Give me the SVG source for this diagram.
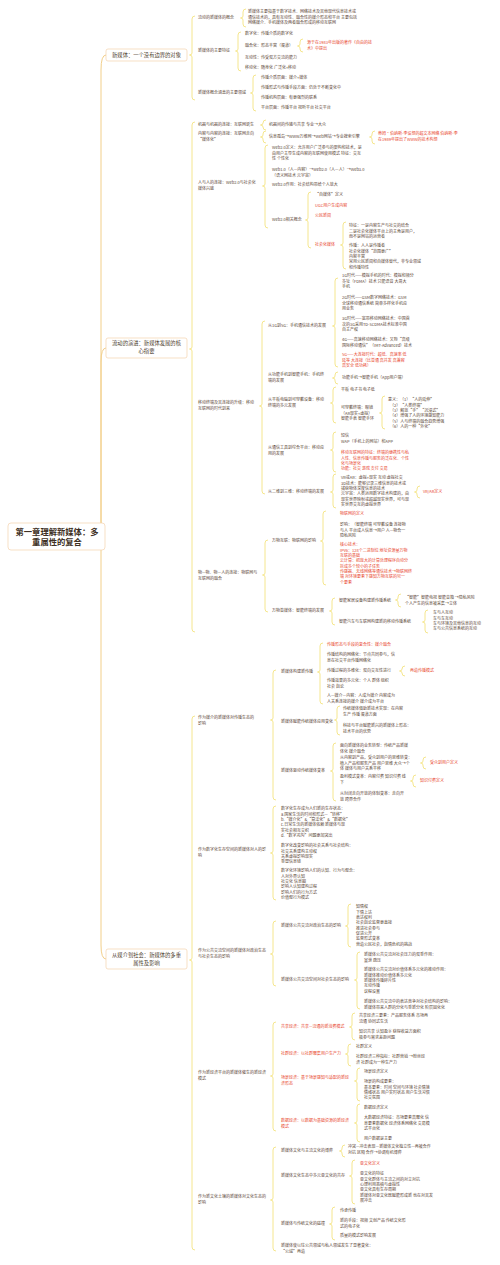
<svg xmlns="http://www.w3.org/2000/svg" width="500" height="1265" viewBox="0 0 500 1265">
<style>
text{font-family:"Noto Sans CJK SC","Noto Sans",sans-serif;font-size:4px;fill:#5b4636}
.r{fill:#e8452c}
.l1{font-size:5.3px;fill:#4a3a2a}
.root{font-size:8.3px;font-weight:bold;fill:#3e3024}
.br{fill:none;stroke:#f2df72;stroke-width:0.8}
.cn{fill:none;stroke:#f2cf8a;stroke-width:1}
.box{fill:#fff;stroke:#f3d3ad;stroke-width:0.7}
</style>
<rect width="500" height="1265" fill="#fff"/>
<g id="connectors">
<path class="cn" d="M103 536Q101 536 101 520V70Q101 55 106 55"/>
<path class="cn" d="M103 536Q101 536 101 520V362Q101 348 106 348"/>
<path class="cn" d="M103 536Q101 536 101 552V945Q101 959 106 959"/>
<path class="br" d="M195 16Q192 16 192 19V53Q192 55 189.5 55Q192 55 192 57V97Q192 100 195 100"/>
<path class="br" d="M195 122Q192 122 192 125V347Q192 349 189.5 349Q192 349 192 351V629Q192 632 195 632"/>
<path class="br" d="M195 716Q192 716 192 719V958Q192 960 189.5 960Q192 960 192 962V1247Q192 1250 195 1250"/>
<path class="br" d="M246 9Q243 9 243 12V16Q243 18 240.5 18Q243 18 243 20V24Q243 27 246 27"/>
<path class="br" d="M241 32Q238 32 238 35V49Q238 51 235.5 51Q238 51 238 53V68Q238 71 241 71"/>
<path class="br" d="M303 39Q300 39 300 42V44Q300 46 297.5 46Q300 46 300 48V49Q300 52 303 52"/>
<path class="br" d="M256 75Q253 75 253 78V91Q253 93 250.5 93Q253 93 253 95V108Q253 111 256 111"/>
<path class="br" d="M266 120Q263 120 263 123V123Q263 125 260.5 125Q263 125 263 127V127Q263 130 266 130"/>
<path class="br" d="M266 131Q263 131 263 134V135Q263 137 260.5 137Q263 137 263 139V140Q263 143 266 143"/>
<path class="br" d="M375 131Q372 131 372 134V135Q372 137 369.5 137Q372 137 372 139V141Q372 144 375 144"/>
<path class="br" d="M268 145Q265 145 265 148V184Q265 186 262.5 186Q265 186 265 188V225Q265 228 268 228"/>
<path class="br" d="M311 192Q308 192 308 195V218Q308 220 305.5 220Q308 220 308 222V245Q308 248 311 248"/>
<path class="br" d="M346 222Q343 222 343 225V243Q343 245 340.5 245Q343 245 343 247V266Q343 269 346 269"/>
<path class="br" d="M265 321Q262 321 262 324V404Q262 406 259.5 406Q262 406 262 408V491Q262 494 265 494"/>
<path class="br" d="M338 278Q335 278 335 281V324Q335 326 332.5 326Q335 326 335 328V364Q335 367 338 367"/>
<path class="br" d="M338 372Q335 372 335 375V376Q335 378 332.5 378Q335 378 335 380V381Q335 384 338 384"/>
<path class="br" d="M336 387Q333 387 333 390V401Q333 403 330.5 403Q333 403 333 405V420Q333 423 336 423"/>
<path class="br" d="M385 396Q382 396 382 399V411Q382 413 379.5 413Q382 413 382 415V426Q382 429 385 429"/>
<path class="br" d="M336 432Q333 432 333 435V448Q333 450 330.5 450Q333 450 333 452V469Q333 472 336 472"/>
<path class="br" d="M336 474Q333 474 333 477V490Q333 492 330.5 492Q333 492 333 494V505Q333 508 336 508"/>
<path class="br" d="M420 486Q417 486 417 489V490Q417 492 414.5 492Q417 492 417 494V495Q417 498 420 498"/>
<path class="br" d="M268 540Q265 540 265 543V573Q265 575 262.5 575Q265 575 265 577V609Q265 612 268 612"/>
<path class="br" d="M326 511Q323 511 323 514V539Q323 541 320.5 541Q323 541 323 543V582Q323 585 326 585"/>
<path class="br" d="M335 598Q332 598 332 601V609Q332 611 329.5 611Q332 611 332 613V622Q332 625 335 625"/>
<path class="br" d="M401 594Q398 594 398 597V598Q398 600 395.5 600Q398 600 398 602V604Q398 607 401 607"/>
<path class="br" d="M428 610Q425 610 425 613V620Q425 622 422.5 622Q425 622 425 624V630Q425 633 428 633"/>
<path class="br" d="M276 670Q273 670 273 673V718Q273 720 270.5 720Q273 720 273 722V797Q273 800 276 800"/>
<path class="br" d="M323 643Q320 643 320 646V670Q320 672 317.5 672Q320 672 320 674V701Q320 704 323 704"/>
<path class="br" d="M405 666Q402 666 402 669V669Q402 671 399.5 671Q402 671 402 673V673Q402 676 405 676"/>
<path class="br" d="M340 706Q337 706 337 709V718Q337 720 334.5 720Q337 720 337 722V732Q337 735 340 735"/>
<path class="br" d="M336 743Q333 743 333 746V769Q333 771 330.5 771Q333 771 333 773V798Q333 801 336 801"/>
<path class="br" d="M426 757Q423 757 423 760V761Q423 763 420.5 763Q423 763 423 765V766Q423 769 426 769"/>
<path class="br" d="M416 775Q413 775 413 778V779Q413 781 410.5 781Q413 781 413 783V784Q413 787 416 787"/>
<path class="br" d="M276 806Q273 806 273 809V851Q273 853 270.5 853Q273 853 273 855V897Q273 900 276 900"/>
<path class="br" d="M276 921Q273 921 273 924V952Q273 954 270.5 954Q273 954 273 956V983Q273 986 276 986"/>
<path class="br" d="M351 904Q348 904 348 907V924Q348 926 345.5 926Q348 926 348 928V944Q348 947 351 947"/>
<path class="br" d="M360 952Q357 952 357 955V978Q357 980 354.5 980Q357 980 357 982V1006Q357 1009 360 1009"/>
<path class="br" d="M276 1022Q273 1022 273 1025V1074Q273 1076 270.5 1076Q273 1076 273 1078V1128Q273 1131 276 1131"/>
<path class="br" d="M355 1013Q352 1013 352 1016V1025Q352 1027 349.5 1027Q352 1027 352 1029V1037Q352 1040 355 1040"/>
<path class="br" d="M351 1044Q348 1044 348 1047V1052Q348 1054 345.5 1054Q348 1054 348 1056V1063Q348 1066 351 1066"/>
<path class="br" d="M360 1068Q357 1068 357 1071V1079Q357 1081 354.5 1081Q357 1081 357 1083V1098Q357 1101 360 1101"/>
<path class="br" d="M360 1104Q357 1104 357 1107V1121Q357 1123 354.5 1123Q357 1123 357 1125V1139Q357 1142 360 1142"/>
<path class="br" d="M276 1147Q273 1147 273 1150V1198Q273 1200 270.5 1200Q273 1200 273 1202V1248Q273 1251 276 1251"/>
<path class="br" d="M345 1145Q342 1145 342 1148V1149Q342 1151 339.5 1151Q342 1151 342 1153V1154Q342 1157 345 1157"/>
<path class="br" d="M355 1160Q352 1160 352 1163V1174Q352 1176 349.5 1176Q352 1176 352 1178V1201Q352 1204 355 1204"/>
<path class="br" d="M335 1207Q332 1207 332 1210V1222Q332 1224 329.5 1224Q332 1224 332 1226V1237Q332 1240 335 1240"/>
</g>
<g id="root">
<rect class="box" x="8" y="523" width="97" height="27" rx="3"/>
<text class="root" x="57" y="535" text-anchor="middle">第一章理解新媒体：多</text>
<text class="root" x="57" y="545" text-anchor="middle">重属性的复合</text>
</g>
<g id="n-a">
<rect class="box" x="106" y="49" width="81" height="12" rx="2"/>
<text class="l1" x="146.5" y="57" text-anchor="middle">新媒体：一个没有边界的对象</text>
</g>
<g id="n-b">
<rect class="box" x="106" y="338" width="81" height="20" rx="2"/>
<text class="l1" x="146.5" y="345" text-anchor="middle">流动的演进：新媒体发展的核</text>
<text class="l1" x="146.5" y="353" text-anchor="middle">心指要</text>
</g>
<g id="n-c">
<rect class="box" x="106" y="949" width="81" height="20" rx="2"/>
<text class="l1" x="146.5" y="957" text-anchor="middle">从媒介到社会：新媒体的多重</text>
<text class="l1" x="146.5" y="965" text-anchor="middle">属性及影响</text>
</g>
<g id="n-a1">
<text x="198" y="19.4">流动的新媒体的概念</text>
<text x="248" y="13.4">新媒体主要指基于数字技术、网络技术及其他现代信息技术或</text>
<text x="248" y="18.7">通信技术的，具有互动性、融合性的媒介形态和平台 主要包括</text>
<text x="248" y="24">网络媒介、手机媒体及两者融合形成的移动互联网</text>
</g>
<g id="n-a2">
<text x="198" y="52.4">新媒体的主要特征</text>
<text x="245" y="35.4">数字化：传播介质的数字化</text>
<text x="245" y="47.4">融合化：形态丰富（渠道）</text>
<text x="245" y="59.4">互动性：传受双方交流的能力</text>
<text x="245" y="69.4">移动化：随身化 广泛化+移动</text>
<text class="r" x="307" y="44.4">源于在1983年出版的著作《自由的技</text>
<text class="r" x="307" y="49.7">术》中提出</text>
</g>
<g id="n-a3">
<text x="198" y="94.4">新媒体概念涵盖的主要领域</text>
<text x="261" y="79.4">传播介质层面：媒介+媒体</text>
<text x="261" y="89.4">传播形式与传播手段方面：仍处于不断变化中</text>
<text x="261" y="99.4">传播机构层面：有更强烈的联系</text>
<text x="261" y="109.4">平台层面：传播平台 视听平台 社交平台</text>
</g>
<g id="n-b1">
<text x="198" y="126.4">机器与机器的连接：互联网诞生</text>
<text x="269" y="126.4">机器间的传输与共享 专业→大众</text>
</g>
<g id="n-b2">
<text x="198" y="135.4">内容与内容的连接：互联网走向</text>
<text x="198" y="140.7">“媒体化”</text>
<text x="269" y="138.4">信息孤岛→WWW万维网→Web网站→专业搜索引擎</text>
<text class="r" x="378" y="135.4">蒂姆·伯纳斯-李设想的超文本网络 伯纳斯-李</text>
<text class="r" x="378" y="141">在1989年提出了WWW的技术构想</text>
</g>
<g id="n-b3">
<text x="198" y="184.4">人与人的连接：Web2.0与社会化</text>
<text x="198" y="190">媒体兴盛</text>
<text x="272" y="149.4">Web2.0定义：允许用户广泛参与的架构和技术，是</text>
<text x="272" y="154.7">由用户主导生成内容的互联网使用模式 特征：交互</text>
<text x="272" y="160">性 个性化</text>
<text x="272" y="171.4">Web1.0（人—内容）→Web2.0（人—人）→Web3.0</text>
<text x="272" y="176.7">（语义网技术 元宇宙）</text>
<text x="272" y="186.4">Web2.0作用：社会结构带给个人放大</text>
<text x="272" y="221.4">Web2.0相关概念</text>
<text x="315" y="196.4">“自媒体”定义</text>
<text class="r" x="315" y="207.4">UGC用户生成内容</text>
<text class="r" x="315" y="217.4">公民新闻</text>
<text class="r" x="315" y="246.4">社会化媒体</text>
<text x="349" y="227.4">特征：一是内容生产与社交的结合</text>
<text x="349" y="232.7">二是社会化媒体平台上的主角是用户，</text>
<text x="349" y="238">而不是网站的运营者</text>
<text x="349" y="247.4">传播：人人是传播者</text>
<text x="349" y="252.7">社会化媒体“范围更广”</text>
<text x="349" y="258">内容丰富</text>
<text x="349" y="263.3">常用公民新闻和自媒体替代，非专业领域</text>
<text x="349" y="268.6">和传播特性</text>
</g>
<g id="n-b4">
<text x="198" y="404.4">移动终端及其连接的升级：移动</text>
<text x="198" y="410">互联网的时代到来</text>
<text x="268" y="327.4">从1G到5G：手机通信技术的发展</text>
<text x="342" y="277.4">1G时代——模拟手机的时代：模拟和频分</text>
<text x="342" y="282.7">多址（FDMA）技术 只能语音 大哥大</text>
<text x="342" y="288">手机</text>
<text x="342" y="299.4">2G时代——GSM数字网络技术：GSM</text>
<text x="342" y="304.7">全球移动通信系统 简单多样化手机应</text>
<text x="342" y="310">用业务</text>
<text x="342" y="320.4">3G时代——宽带移动网络技术：中国首</text>
<text x="342" y="325.7">次的3G采用TD-SCDMA技术标准中国</text>
<text x="342" y="331">自主产权</text>
<text x="342" y="341.4">4G——高速移动网络技术：又称“高级</text>
<text x="342" y="346.7">国际移动通信”（IMT-Advanced）技术</text>
<text class="r" x="342" y="356.4">5G——大连接时代：超低、高速率 低</text>
<text class="r" x="342" y="361.7">延等 大连接（比普通 高并发 高兼容</text>
<text class="r" x="342" y="367">高安全 低功耗）</text>
<text x="268" y="376.4">从功能手机到智能手机：手机终</text>
<text x="268" y="381.7">端的发展</text>
<text x="342" y="379.4">功能手机→智能手机（App用户端）</text>
<text x="268" y="401.4">从平板电脑到可穿戴设备：移动</text>
<text x="268" y="406.7">终端的多元发展</text>
<text x="341" y="391.4">平板 电子书 电子纸</text>
<text x="341" y="409.4">可穿戴终端：眼镜</text>
<text x="341" y="414.7">（AR现实+虚拟）</text>
<text x="341" y="420">智能手表 智能手环</text>
<text x="388" y="401.4">意义：（1）“人的延伸”</text>
<text x="390" y="406.7">（2）“人类终端”</text>
<text x="390" y="412">（3）解放“手”“沉浸式”</text>
<text x="390" y="417.3">（4）增强了人的环境感知能力</text>
<text x="390" y="422.6">（5）人与终端的融合趋势增强</text>
<text x="390" y="427.9">（6）人的一种“外化”</text>
<text x="268" y="449.4">从通信工具到综合平台：移动应</text>
<text x="268" y="454.7">用的发展</text>
<text x="341" y="437.4">短信</text>
<text x="341" y="442.7">WAP（手机上的网站）和APP</text>
<text class="r" x="341" y="454.4">移动互联网的特征：终端的便携性与私</text>
<text class="r" x="341" y="459.7">人性、信息传播与服务的泛在化、个性</text>
<text class="r" x="341" y="465">化与场景化</text>
<text class="r" x="341" y="470.3">功能：社交 游戏 支付 交易</text>
<text x="268" y="493.4">从二维到三维：移动终端的发展</text>
<text x="341" y="479.4">VR或AR：虚拟+现实 互动 虚拟社交</text>
<text x="341" y="484.7">3D技术：能够记录三维信息的技术或</text>
<text x="341" y="490">捕获物体深度信息的技术</text>
<text x="341" y="495.3">元宇宙：人类运用数字技术构建的，由</text>
<text x="341" y="500.6">现实世界映射或超越现实世界，可与现</text>
<text x="341" y="505.9">实世界交互的虚拟世界</text>
<text class="r" x="423" y="493.4">VR/AR定义</text>
</g>
<g id="n-b5">
<text x="198" y="574.4">物—物、物—人的连接：物联网与</text>
<text x="198" y="579.7">互联网的融合</text>
<text x="272" y="542.4">万物互联：物联网的影响</text>
<text class="r" x="340" y="515.4">物联网的定义</text>
<text x="340" y="526.4">影响：（智能终端 可穿戴设备 连接物</text>
<text x="340" y="531.7">与人 平台成人信息→用户 人—物合一</text>
<text x="340" y="537">隐私风险</text>
<text class="r" x="340" y="546.4">核心技术：</text>
<text class="r" x="340" y="551.7">IPv6：128个二进制位 地址资源量万物</text>
<text class="r" x="340" y="557">互联的基础</text>
<text class="r" x="340" y="562.3">云计算：把庞大的计算处理程序自动分</text>
<text class="r" x="340" y="567.6">拆成多个较小的子任务</text>
<text class="r" x="340" y="572.9">   传感器、无线网络等通信技术→物联网终</text>
<text class="r" x="340" y="578.2">端 对环境要素下感知万物互联的另一</text>
<text class="r" x="340" y="583.5">个要素</text>
<text x="272" y="612.4">万物皆媒体：智能终端的发展</text>
<text x="339" y="602.4">智能家居设备构建新传播系统</text>
<text x="405" y="599.4">“智能”智能电视 智能音箱 →隐私风险</text>
<text x="405" y="604.7">个人产生的信息被采集→立体</text>
<text x="339" y="623.4">智能汽车与车联网构建新的移动传播系统</text>
<text x="433" y="614.4">车与人互动</text>
<text x="433" y="619.7">车与车互动</text>
<text x="433" y="625">车与环境及其他信息的互动</text>
<text x="433" y="630.3">车与公共信息系统的互动</text>
</g>
<g id="n-c1">
<text x="198" y="719.4">作为媒介的新媒体对传播生态的</text>
<text x="198" y="724.7">影响</text>
<text x="281" y="673.4">新媒体构建新传播</text>
<text class="r" x="327" y="646.4">传播形态与手段的复合性：媒介融合</text>
<text x="327" y="656.4">传播结构的网络化：节点共同参与，信</text>
<text x="327" y="661.7">息在社交平台传播网络化</text>
<text x="327" y="672.4">传播过程的多维化：双向交互性进行</text>
<text x="327" y="682.4">传播效果的多元化：个人 群体 组织</text>
<text x="327" y="687.7">社会 舆论</text>
<text x="327" y="697.4">人—媒介—内容：人成为媒介 内容成为</text>
<text x="327" y="702.7">人关系连接的媒介 媒介成为平台</text>
<text class="r" x="410" y="672.4">再造传播模式</text>
<text x="281" y="723.4">新媒体赋能传统媒体应用变化</text>
<text x="343" y="710.4">传统媒体借助新技术实现：在内容</text>
<text x="343" y="715.7">生产 传播 渠道方面</text>
<text x="343" y="727.4">科技与平台赋能新兴的新媒体上形态：</text>
<text x="343" y="732.7">技术平台的优势</text>
<text x="281" y="772.4">新媒体驱动传统媒体变革</text>
<text x="340" y="747.4">面向新媒体的业务转型：传统产品新媒</text>
<text x="340" y="752.7">体化 媒介融合</text>
<text x="340" y="759.4">从内容到产品，受众到用户的思维转变：</text>
<text x="340" y="764.7">植入产品和服务产品 用户思维 大众→个</text>
<text x="340" y="770">体 媒体与用户关系平移</text>
<text x="340" y="778.4">盈利模式变革：内容付费 知识付费 线</text>
<text x="340" y="783.7">下</text>
<text x="340" y="795.4">从封闭走向开放的体制变革：走向开</text>
<text x="340" y="800.7">放 跨界合作</text>
<text class="r" x="430" y="764.4">受众到用户定义</text>
<text class="r" x="420" y="782.4">知识付费定义</text>
</g>
<g id="n-c2">
<text x="198" y="851.4">作为数字化生存空间的新媒体对人的影</text>
<text x="198" y="856.7">响</text>
<text x="281" y="810.4">数字化生存成为人们新的生存状态：</text>
<text x="281" y="815.7">a.国家生活的时间和形式—“转移”</text>
<text x="281" y="821">b.“媒介化”&amp;“算法化”&amp;“数据化”</text>
<text x="281" y="826.3">c.日常生活的新媒体依赖 新媒体与现</text>
<text x="281" y="831.6">实社会相互交织</text>
<text x="281" y="836.9">d.“数字鸿沟”问题更加突出</text>
<text x="281" y="847.4">数字化改变影响的社会关系与社会结构：</text>
<text x="281" y="852.7">社交关系建构主动权</text>
<text x="281" y="858">关系虚拟影响现实</text>
<text x="281" y="863.3"> 重塑信息链</text>
<text x="281" y="872.4">数字化环境影响人们的认知、行为与观念：</text>
<text x="281" y="877.7">人对外界认知</text>
<text x="281" y="883"> 社交化 信息圈</text>
<text x="281" y="888.3">影响人认知建构过程</text>
<text x="281" y="893.6">影响人们的行为方式</text>
<text x="281" y="898.9">价值观行为模式</text>
</g>
<g id="n-c3">
<text x="198" y="952.4">作为公共交流空间的新媒体对政治生态</text>
<text x="198" y="957.7">与社会生态的影响</text>
<text x="281" y="927.4">新媒体公共交流对政治生态的影响</text>
<text x="356" y="908.4">知情权</text>
<text x="356" y="913.7">下情上达</text>
<text x="356" y="919">  表达权利</text>
<text x="356" y="924.3">社会舆论监督更直接</text>
<text x="356" y="929.6">推进社会参与</text>
<text x="356" y="934.9">促进公开</text>
<text x="356" y="940.2">监督形式变革</text>
<text x="356" y="945.5">营造公民社会，舆情危机的挑战</text>
<text x="281" y="981.4">新媒体公共交流空间对社会生态的影响</text>
<text x="364" y="956.4">新媒体公共交流对社会压力的双重作用：</text>
<text x="364" y="961.7">宣泄 疏压</text>
<text x="364" y="971.4">新媒体公共交流对价值体系多元化的推动作用：</text>
<text x="364" y="976.7">新媒体推动价值体系多元化</text>
<text x="364" y="982">新媒体传播碎片性</text>
<text x="364" y="987.3">互动传播</text>
<text x="364" y="992.6">议程设置</text>
<text x="364" y="1003.4">新媒体公共交流中的表达竞争对社会结构的影响：</text>
<text x="364" y="1008.7">新媒体带来人群的分化与重新分化 阶层固化化</text>
</g>
<g id="n-c4">
<text x="198" y="1074.4">作为新经济平台的新媒体催生的新经济</text>
<text x="198" y="1079.7">模式</text>
<text class="r" x="281" y="1028.4">共享经济：共享—流通的新消费模式</text>
<text x="359" y="1017.4">共享经济三要素：产品服务体系 市场再</text>
<text x="359" y="1022.7">流通 协同式生活</text>
<text x="359" y="1033.4">知识共享 认知盈余 获得收益方面积</text>
<text x="359" y="1038.7">极参与需求差距问题</text>
<text class="r" x="281" y="1055.4">社群经济：以社群聚集用户生产力</text>
<text x="356" y="1048.4">社群定义</text>
<text x="356" y="1058.4">社群经济三种指标：社群营销 →粉丝经</text>
<text x="356" y="1063.7">济 社群成为一种生产力</text>
<text class="r" x="281" y="1079.4">场景经济：基于场景感知与适配的新经</text>
<text class="r" x="281" y="1084.7">济形态</text>
<text x="364" y="1073.4">场景经济定义</text>
<text x="364" y="1083.4">场景的构成要素：</text>
<text x="364" y="1088.7">基本要素：时间 空间与环境 社会情境</text>
<text x="364" y="1094">情绪状态 用户实时状态 用户生活习惯</text>
<text x="364" y="1099.3">社交氛围</text>
<text class="r" x="281" y="1122.4">数据经济：以数据为基础资源的新经济</text>
<text class="r" x="281" y="1127.7">模式</text>
<text x="364" y="1109.4">数据经济定义</text>
<text x="364" y="1119.4">大数据经济特征：市场要素高聚化 信</text>
<text x="364" y="1124.7">息要素数据化 经济体系网络化 交易模</text>
<text x="364" y="1130">式平台化</text>
<text x="364" y="1140.4">用户数据是主要</text>
</g>
<g id="n-c5">
<text x="198" y="1198.4">作为新文化土壤的新媒体对文化生态的</text>
<text x="198" y="1203.7">影响</text>
<text x="281" y="1152.4">新媒体文化与主流文化的博弈</text>
<text x="348" y="1148.4">冲突—冲击表现—新媒体文化独立性—再被合作</text>
<text x="348" y="1153.7">对抗 区隔 合作→协调有机博弈</text>
<text x="281" y="1177.4">新媒体文化生态中多元亚文化的共存</text>
<text class="r" x="360" y="1165.4">亚文化定义</text>
<text x="360" y="1175.4">亚文化的特征</text>
<text x="360" y="1180.7">亚文化群体与主流之间的对立对抗</text>
<text x="360" y="1186">心理利用恶搞与虚拟性</text>
<text x="360" y="1191.3">亚文化具有生存周期</text>
<text x="360" y="1196.6">新媒体对亚文化既赋能形成新 也在对其发</text>
<text x="360" y="1201.9">展冲击</text>
<text x="281" y="1225.4">新媒体与传统文化的碰撞</text>
<text x="340" y="1212.4">传承传播</text>
<text x="340" y="1222.4">新的手段：视频 文创产品 传统文化形</text>
<text x="340" y="1227.7">式的电子化</text>
<text x="340" y="1237.4">质量的模式影响发展</text>
<text x="281" y="1247.4">新媒体使以往公共领域与私人领域发生了显著变化：</text>
<text x="281" y="1252.7">“公域”再造</text>
</g>
</svg>
